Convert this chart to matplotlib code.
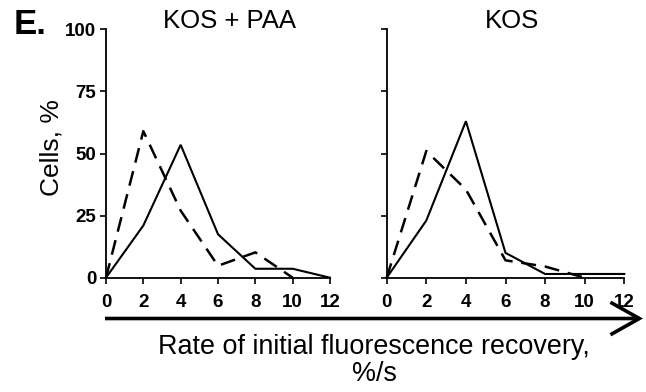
import matplotlib
matplotlib.use("Agg")
import matplotlib.pyplot as plt
from matplotlib.patches import FancyArrowPatch

# Rate bins (%/s) and percentage of cells in each bin
rates = [0, 2, 4, 6, 8, 10, 12]

paa_solid = [0, 21, 53.5, 17.5, 3.6, 3.6, 0]
paa_dashed = [0, 59, 27, 4.8, 10.2, 0]

kos_solid = [0, 23, 63, 10, 1.5, 1.5, 1.5]
kos_dashed = [0, 51, 35.5, 7, 4.5, 0]

panel_titles = ["KOS + PAA", "KOS"]
y_ticks = [0, 25, 50, 75, 100]
x_ticks = [0, 2, 4, 6, 8, 10, 12]

plt.rcParams["font.family"] = ["Liberation Sans", "DejaVu Sans"]
W, H = 646, 392
fig = plt.figure(figsize=(W / 100, H / 100), dpi=100)

def px_axes(x0, x1, y_top, y_bot):
    return fig.add_axes([x0 / W, 1 - y_bot / H, (x1 - x0) / W, (y_bot - y_top) / H])

ax_l = px_axes(106, 330, 29.3, 277.7)
ax_r = px_axes(386.7, 624.3, 29.3, 277.7)

series = [(ax_l, paa_solid, paa_dashed), (ax_r, kos_solid, kos_dashed)]
title_x = [0.553, 0.527]
tick_font = dict(family=["Liberation Sans", "DejaVu Sans"], weight="bold", size=13.5)

for i, (ax, solid, dashed) in enumerate(series):
    ax.plot(rates[:len(solid)], solid, color="black", lw=1.5, clip_on=False,
            solid_joinstyle="miter")
    ax.plot(rates[:len(dashed)], dashed, color="black", lw=1.8, clip_on=False,
            dashes=(6, 3.5))
    ax.set_xlim(0, 12)
    ax.set_ylim(0, 100)
    ax.set_xticks(x_ticks)
    ax.set_yticks(y_ticks)
    ax.set_xticklabels([str(t) for t in x_ticks], fontdict=tick_font)
    if i == 0:
        ax.set_yticklabels([str(t) for t in y_ticks], fontdict=tick_font)
    else:
        ax.set_yticklabels([])
    ax.tick_params(direction="out", length=4, width=1.2, pad=8)
    ax.tick_params(axis="y", pad=3)
    for s in ("top", "right"):
        ax.spines[s].set_visible(False)
    for s in ("left", "bottom"):
        ax.spines[s].set_linewidth(1.3)
    ax.set_facecolor("none")
    ax.text(title_x[i], 1 + 8.3 / 248.4, panel_titles[i], transform=ax.transAxes,
            fontsize=18.5, ha="center", va="center")

ax_l.set_ylabel("Cells, %", fontsize=19)
ax_l.yaxis.set_label_coords(-0.188, 0.524)

fig.text(14 / W, 1 - 24 / H, "E.", fontsize=25, fontweight="bold", va="center", ha="left")

arrow = FancyArrowPatch((105 / W, 1 - 318.5 / H), (643 / W, 1 - 318.5 / H),
                        transform=fig.transFigure, arrowstyle="->,head_length=8,head_width=4.5",
                        lw=2.6, color="black", mutation_scale=2.6, joinstyle="miter",
                        capstyle="butt", shrinkA=0, shrinkB=0)
fig.patches.append(arrow)

fig.text(374 / W, 1 - 347 / H, "Rate of initial fluorescence recovery,", fontsize=19.4,
         ha="center", va="center")
fig.text(374 / W, 1 - 374 / H, "%/s", fontsize=19.4, ha="center", va="center")

fig.savefig("out.png", dpi=100)
